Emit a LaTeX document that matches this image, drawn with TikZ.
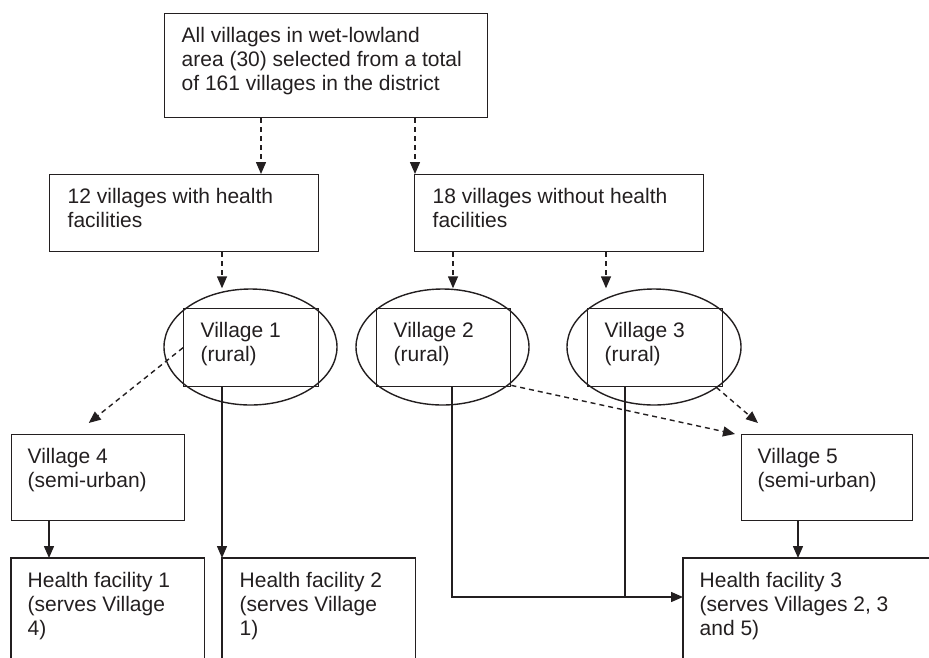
\documentclass[tikz,border=0pt]{standalone}
\usepackage{fontspec}
\setmainfont{Liberation Sans}
\usetikzlibrary{arrows.meta,shapes.geometric,calc}
\definecolor{ink}{RGB}{35,31,32}
\begin{document}
\begin{tikzpicture}[x=1pt,y=-1pt,
  line width=1.4pt, draw=ink,
  boxshape/.style={draw=ink, rectangle, inner sep=0, anchor=north west},
  openbox/.style={rectangle, inner sep=0, anchor=north west},
  oval/.style={draw=ink, ellipse, inner sep=0},
  txt/.style={inner sep=0, anchor=north west, align=left, text=ink,
    font=\fontsize{21}{24}\selectfont},
  arr/.style={draw=ink, -{Triangle[length=12pt,width=10pt]}},
  darr/.style={arr, dash pattern=on 5pt off 4pt}]
\useasboundingbox (0,0) rectangle (929,657);
% boxes
\node[boxshape, minimum width=323, minimum height=104] (top) at (164,13) {};
\node[boxshape, minimum width=269, minimum height=77] (b12) at (49,174) {};
\node[boxshape, minimum width=289, minimum height=77] (b18) at (414,174) {};
% ellipses and villages
\node[oval, minimum width=173, minimum height=116] (e1) at (250.5,347) {};
\node[oval, minimum width=173, minimum height=116] (e2) at (442.5,347) {};
\node[oval, minimum width=174, minimum height=116] (e3) at (654,347) {};
\node[boxshape, minimum width=135, minimum height=78] (v1) at (183,308) {};
\node[boxshape, minimum width=134, minimum height=78] (v2) at (376,308) {};
\node[boxshape, minimum width=135, minimum height=78] (v3) at (587,308) {};
\node[boxshape, minimum width=173, minimum height=86] (v4) at (11,434) {};
\node[boxshape, minimum width=171, minimum height=86] (v5) at (741,434) {};
% open health facility boxes
\node[openbox, minimum width=192, minimum height=99] (hf1) at (11,558) {};
\node[openbox, minimum width=192, minimum height=99] (hf2) at (222,558) {};
\node[openbox, minimum width=246, minimum height=99] (hf3) at (683,558) {};
\draw (hf1.south west) -- (hf1.north west) -- (hf1.north east) -- (hf1.south east);
\draw (hf2.south west) -- (hf2.north west) -- (hf2.north east) -- (hf2.south east);
\draw (hf3.south west) -- (hf3.north west) -- (hf3.north east);
% texts
\node[txt] (ttop) at ([shift={(17,14)}]top.north west) {All villages in wet-lowland\\area (30) selected from a total\\of 161 villages in the district};
\node[txt] (t12) at ([shift={(18,14)}]b12.north west) {12 villages with health\\facilities};
\node[txt] (t18) at ([shift={(18,14)}]b18.north west) {18 villages without health\\facilities};
\node[txt] (tv1) at ([shift={(17,14)}]v1.north west) {Village 1\\(rural)};
\node[txt] (tv2) at ([shift={(17,14)}]v2.north west) {Village 2\\(rural)};
\node[txt] (tv3) at ([shift={(17,14)}]v3.north west) {Village 3\\(rural)};
\node[txt] (tv4) at ([shift={(16,14)}]v4.north west) {Village 4\\(semi-urban)};
\node[txt] (tv5) at ([shift={(16,14)}]v5.north west) {Village 5\\(semi-urban)};
\node[txt] (th1) at ([shift={(16,14)}]hf1.north west) {Health facility 1\\(serves Village\\4)};
\node[txt] (th2) at ([shift={(17,14)}]hf2.north west) {Health facility 2\\(serves Village\\1)};
\node[txt] (th3) at ([shift={(16,14)}]hf3.north west) {Health facility 3\\(serves Villages 2, 3\\and 5)};
% dashed connectors
\draw[darr] ([xshift=97pt]top.south west) -- ([xshift=212pt]b12.north west);
\draw[darr] ([xshift=251pt]top.south west) -- ([xshift=1pt]b18.north west);
\draw[darr] ([xshift=173pt]b12.south west) coordinate (a1) -- (a1 |- e1.north);
\draw[darr] ([xshift=39pt]b18.south west) coordinate (a2) -- (a2 |- e2.north);
\draw[darr] ([xshift=192pt]b18.south west) coordinate (a3) -- (a3 |- e3.north);
\draw[darr] (v1.west) -- ([shift={(-9.5,-11)}]v4.north);
\draw[darr] ([yshift=2pt]v2.south east) -- ([xshift=-6pt]v5.north west);
\draw[darr] ([xshift=-7pt]v3.south east) -- ([shift={(17,-11)}]v5.north west);
% solid connectors
\draw[arr] ([xshift=38pt]v4.south west) -- ([xshift=38pt]hf1.north west);
\draw[arr] (v1.south -| hf2.north west) -- (hf2.north west);
\draw[arr] ([xshift=76pt]v2.south west) |- ([yshift=-39pt]hf3.north west);
\draw ([xshift=38pt]v3.south west) coordinate (a4) -- (a4 |- 0,597);
\draw[arr] ([xshift=57pt]v5.south west) coordinate (a5) -- (a5 |- hf3.north);
\end{tikzpicture}
\end{document}
